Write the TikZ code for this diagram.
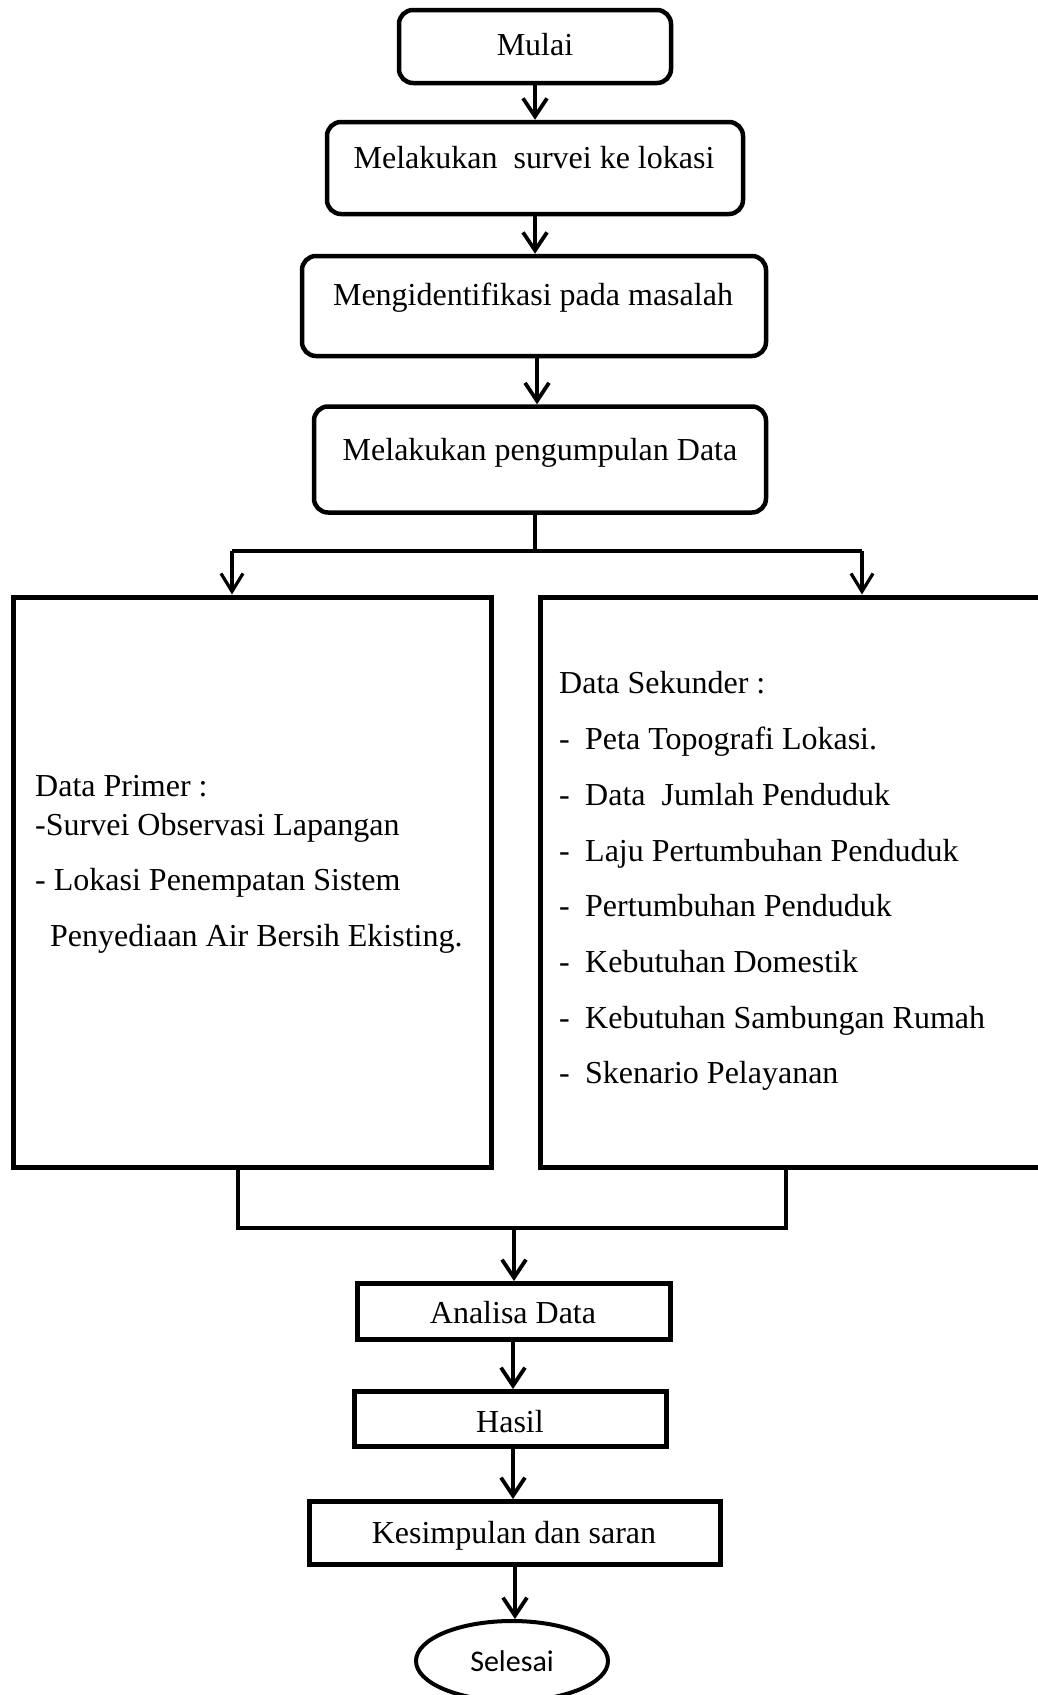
\documentclass[tikz,border=0pt]{standalone}
\usepackage{fontspec}
\setmainfont{Liberation Serif}
\newfontfamily\calfont{Carlito}
\usetikzlibrary{arrows.meta,shapes.geometric}
\tikzset{
  rbox/.style={draw, line width=4.5pt, rounded corners=14pt, inner sep=0pt},
  sbox/.style={draw, line width=5pt, inner sep=0pt},
  txt/.style={inner sep=0pt, font=\fontsize{32}{38}\selectfont},
  conn/.style={line width=3.8pt, -{Straight Barb[length=18pt,width=24pt]}},
  thin/.style={line width=3.2pt},
  thinarrow/.style={line width=3.2pt, -{Straight Barb[length=18pt,width=22pt]}},
  mline/.style={line width=3.8pt},
}
\begin{document}
\begin{tikzpicture}[x=1pt,y=-1pt]
\useasboundingbox (0,0) rectangle (1038,1695);
\fill[white] (0,0) rectangle (1038,1695);
\clip (0,0) rectangle (1038,1695);
% boxes
\node[rbox, minimum width=272pt, minimum height=73pt] (mulai) at (535,46.5) {};
\node[txt, anchor=base] (tmulai) at (535,55) {Mulai};
\node[rbox, minimum width=416pt, minimum height=92pt] (survei) at (535,168) {};
\node[txt, anchor=base] (tsurvei) at (534,168) {Melakukan~~survei ke lokasi};
\node[rbox, minimum width=464pt, minimum height=100pt] (ident) at (534,306) {};
\node[txt, anchor=base] (tident) at (533,305) {Mengidentifikasi pada masalah};
\node[rbox, minimum width=452pt, minimum height=106pt] (kumpul) at (540,459.5) {};
\node[txt, anchor=base] (tkumpul) at (540,460) {Melakukan pengumpulan Data};
\node[sbox, minimum width=478pt, minimum height=570pt] (primer) at (252,882) {};
\node[sbox, minimum width=520pt, minimum height=570pt] (sekunder) at (800,882) {};
\node[sbox, minimum width=313pt, minimum height=56pt] (analisa) at (513.5,1311.5) {};
\node[txt, anchor=base] (tanalisa) at (513,1323) {Analisa Data};
\node[sbox, minimum width=312pt, minimum height=55pt] (hasil) at (510,1419) {};
\node[txt, anchor=base] (thasil) at (510,1432) {Hasil};
\node[sbox, minimum width=411pt, minimum height=63pt] (kesimpulan) at (514.5,1533) {};
\node[txt, anchor=base] (tkesimpulan) at (514,1543) {Kesimpulan dan saran};
\node[ellipse, draw, line width=4pt, minimum width=192pt, minimum height=80pt, inner sep=0pt,
      font=\calfont\fontsize{30}{35}\selectfont] (selesai) at (512,1661) {Selesai};
% primer text
\node[txt, anchor=base west] (p0) at (35,796) {Data Primer :};
\node[txt, anchor=base west] (p1) at (35,835) {-Survei Observasi Lapangan};
\node[txt, anchor=base west] (p2) at (35,890) {- Lokasi Penempatan Sistem};
\node[txt, anchor=base west] (p3) at (50,946) {Penyediaan Air Bersih Ekisting.};
% sekunder text
\node[txt, anchor=base west] (s0) at (559,693) {Data Sekunder :};
\foreach \y/\t [count=\i] in {749/{Peta Topografi Lokasi.},805/{Data~~Jumlah Penduduk},861/{Laju Pertumbuhan Penduduk},916/{Pertumbuhan Penduduk},972/{Kebutuhan Domestik},1028/{Kebutuhan Sambungan Rumah},1083/{Skenario Pelayanan}}{
  \node[txt, anchor=base west] (sd\i) at (559,\y) {-};
  \node[txt, anchor=base west] (s\i) at (585,\y) {\t};
}
% connectors
\draw[conn] (mulai.south) -- (survei.north);
\draw[conn] (survei.south) -- (survei.south |- ident.north);
\draw[conn] ([xshift=3pt]ident.south) -- ([xshift=3pt]ident.south |- kumpul.north);
\coordinate (split) at (535,551);
\coordinate (splitL) at (232,551);
\coordinate (splitR) at (862,551);
\draw[thin] (split |- kumpul.south) -- (split);
\draw[thin] (splitL) -- (splitR);
\draw[thinarrow] (splitL) -- (splitL |- primer.north);
\draw[thinarrow] (splitR) -- (splitR |- sekunder.north);
\coordinate (mergeL) at (238,1228);
\coordinate (mergeR) at (786,1228);
\coordinate (mergeC) at (514,1228);
\draw[mline] (mergeL |- primer.south) -- (mergeL) -- (mergeR) -- (mergeR |- sekunder.south);
\draw[conn] (mergeC) -- (mergeC |- analisa.north);
\coordinate (colA) at (513,0);
\coordinate (colB) at (515,0);
\draw[conn] (analisa.south -| colA) -- (hasil.north -| colA);
\draw[conn] (hasil.south -| colA) -- (kesimpulan.north -| colA);
\draw[conn] (kesimpulan.south -| colB) -- (selesai.north -| colB);
\end{tikzpicture}
\end{document}
